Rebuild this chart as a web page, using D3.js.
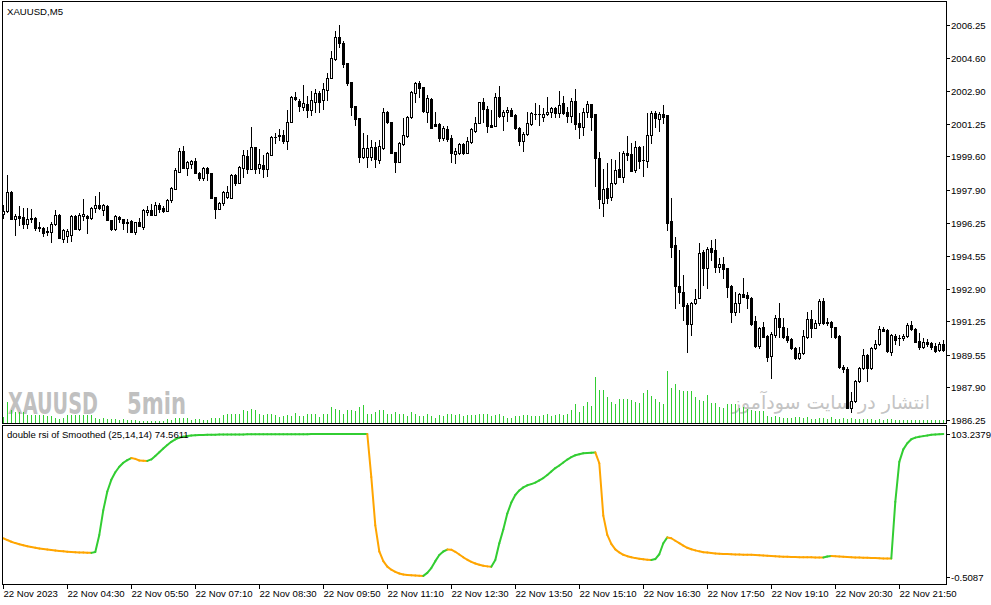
<!DOCTYPE html>
<html>
<head>
<meta charset="utf-8">
<script src="https://cdn.jsdelivr.net/npm/d3@7.9.0/dist/d3.min.js"></script>
<style>
  body { margin: 0; background: #fff; }
  svg { display: block; }
  text { font-family: "Liberation Sans", Arial, sans-serif; font-size: 9.6px; fill: #000; }
</style>
</head>
<body>
<svg id="chart" width="991" height="605"></svg>
<script>
// XAUUSD M5, 22 Nov 2023, one bar every 5 minutes from 03:10
const open = [
  1996.69, 1996.84, 1997.80, 1996.44, 1996.59, 1996.54, 1996.18, 1996.44, 1996.49, 1995.98,
  1995.98, 1995.77, 1995.77, 1996.18, 1996.64, 1995.42, 1995.57, 1995.62, 1996.59, 1995.92,
  1996.59, 1996.59, 1996.49, 1996.99, 1997.14, 1996.89, 1997.09, 1996.38, 1995.92, 1996.54,
  1996.44, 1996.28, 1996.33, 1995.77, 1996.28, 1996.03, 1996.79, 1996.89, 1996.64, 1997.14,
  1996.99, 1996.84, 1997.39, 1997.95, 1998.81, 1999.88, 1999.01, 1999.22, 1999.37, 1998.76,
  1998.51, 1999.01, 1998.76, 1997.55, 1996.94, 1997.24, 1997.55, 1997.50, 1998.66, 1998.25,
  1999.01, 1999.62, 1998.96, 2000.08, 1999.01, 1999.17, 1998.96, 1999.68, 2000.58, 2000.63,
  2000.68, 2000.38, 2001.34, 2002.61, 2002.41, 2002.11, 2002.26, 2001.95, 2002.36, 2002.81,
  2002.46, 2002.96, 2003.57, 2004.53, 2005.65, 2005.34, 2004.33, 2003.37, 2002.16, 2001.54,
  1999.57, 1999.57, 1999.57, 2000.08, 1999.42, 2000.03, 2001.85, 2001.34, 1999.83, 1999.32,
  2000.23, 2000.63, 2001.60, 2002.81, 2003.32, 2003.11, 2001.85, 2002.51, 2001.24, 2001.24,
  2000.53, 2000.99, 2000.53, 1999.73, 1999.78, 2000.23, 1999.78, 2000.33, 2000.89, 2001.29,
  2002.36, 2002.00, 2001.19, 2001.14, 2002.61, 2001.65, 2001.85, 2001.95, 2001.70, 2001.04,
  2000.38, 2000.73, 2001.24, 2001.75, 2001.75, 2001.60, 2001.75, 2001.85, 2002.05, 2001.80,
  2002.31, 2001.85, 2001.65, 2002.41, 2001.29, 2001.09, 2001.85, 2002.26, 2001.75, 1999.52,
  1997.24, 1998.00, 1997.55, 1998.25, 1998.96, 1998.56, 1999.78, 1999.73, 1998.91, 2000.08,
  1999.42, 1999.37, 2000.68, 2001.80, 2001.49, 2001.75, 2001.70, 1996.33, 1995.12, 1993.04,
  1992.74, 1992.08, 1991.12, 1992.18, 1992.43, 1994.76, 1993.95, 1994.96, 1994.86, 1994.00,
  1994.16, 1993.95, 1993.04, 1991.72, 1992.18, 1992.64, 1992.58, 1992.43, 1991.27, 1990.00,
  1990.96, 1990.51, 1989.49, 1990.56, 1991.42, 1990.96, 1990.51, 1990.35, 1989.90, 1989.39,
  1989.65, 1990.46, 1991.37, 1990.91, 1991.17, 1992.28, 1991.22, 1991.22, 1990.96, 1990.51,
  1988.94, 1988.84, 1986.86, 1987.22, 1988.23, 1988.89, 1989.55, 1988.89, 1989.90, 1990.10,
  1990.86, 1990.81, 1989.70, 1990.51, 1990.41, 1990.41, 1990.51, 1991.07, 1990.86, 1990.25,
  1989.95, 1990.20, 1990.15, 1990.00, 1989.80, 1990.10
];
const high = [
  1997.14, 1998.66, 1997.85, 1996.69, 1997.09, 1996.99, 1996.99, 1996.94, 1996.54, 1996.28,
  1996.03, 1996.03, 1996.28, 1996.89, 1996.69, 1995.92, 1995.92, 1996.64, 1996.64, 1996.74,
  1997.44, 1996.64, 1997.04, 1997.60, 1997.80, 1997.19, 1997.14, 1996.38, 1996.64, 1996.59,
  1996.44, 1996.44, 1996.38, 1996.28, 1996.49, 1996.94, 1997.09, 1997.19, 1997.29, 1997.24,
  1997.09, 1997.44, 1998.05, 1999.01, 2000.03, 2000.13, 1999.37, 1999.42, 1999.52, 1998.81,
  1999.06, 1999.06, 1998.76, 1997.55, 1997.29, 1997.85, 1998.10, 1998.71, 1998.71, 1999.11,
  1999.93, 1999.93, 2001.09, 2000.08, 1999.98, 1999.68, 1999.83, 2000.63, 2000.79, 2000.99,
  2000.94, 2001.95, 2002.66, 2002.86, 2002.51, 2003.21, 2002.66, 2002.91, 2003.01, 2002.91,
  2003.32, 2003.83, 2004.94, 2005.95, 2006.25, 2005.44, 2004.33, 2003.37, 2002.16, 2001.54,
  2000.79, 2000.68, 2000.43, 2000.33, 2000.43, 2002.05, 2001.90, 2001.34, 1999.83, 2000.33,
  2001.54, 2001.65, 2002.91, 2003.37, 2003.42, 2003.11, 2002.71, 2002.56, 2001.85, 2001.29,
  2001.14, 2001.14, 2000.68, 2000.03, 2000.28, 2000.28, 2000.58, 2001.04, 2001.60, 2002.36,
  2002.56, 2002.16, 2001.95, 2002.81, 2003.16, 2001.95, 2002.11, 2002.05, 2001.75, 2001.09,
  2000.84, 2001.85, 2001.85, 2002.31, 2002.21, 2002.05, 2002.61, 2002.11, 2002.11, 2002.91,
  2002.66, 2002.11, 2002.56, 2003.01, 2001.80, 2002.05, 2002.41, 2002.26, 2001.75, 1999.83,
  1998.96, 1999.27, 1999.47, 1999.42, 1999.83, 1999.88, 2000.63, 2000.28, 2000.38, 2000.13,
  2000.13, 2001.80, 2001.90, 2001.90, 2001.85, 2002.21, 2001.70, 1997.50, 1995.52, 1994.86,
  1993.60, 1992.18, 1992.23, 1992.89, 1995.22, 1994.86, 1995.02, 1995.37, 1995.42, 1994.46,
  1994.51, 1993.95, 1993.09, 1992.74, 1992.69, 1993.44, 1992.74, 1992.48, 1991.52, 1990.96,
  1991.22, 1990.56, 1990.71, 1991.57, 1992.18, 1991.42, 1990.91, 1990.41, 1989.95, 1989.95,
  1990.81, 1991.72, 1991.82, 1991.32, 1992.38, 1992.43, 1991.42, 1991.27, 1990.96, 1990.56,
  1989.04, 1988.94, 1987.67, 1988.28, 1988.94, 1989.85, 1989.60, 1989.95, 1990.30, 1991.02,
  1990.96, 1990.86, 1990.61, 1990.61, 1990.56, 1990.61, 1991.17, 1991.27, 1990.91, 1990.66,
  1990.41, 1990.35, 1990.20, 1990.15, 1990.20, 1990.30
];
const low = [
  1996.49, 1996.79, 1996.44, 1995.62, 1996.13, 1995.98, 1995.98, 1996.28, 1995.87, 1995.82,
  1995.57, 1995.62, 1995.27, 1996.13, 1995.47, 1995.27, 1995.27, 1995.32, 1995.92, 1995.87,
  1996.38, 1995.72, 1996.44, 1996.79, 1996.94, 1996.64, 1996.38, 1995.87, 1995.87, 1996.28,
  1995.92, 1995.77, 1995.77, 1995.67, 1996.08, 1995.92, 1996.64, 1996.64, 1996.64, 1996.79,
  1996.79, 1996.84, 1997.29, 1997.95, 1998.81, 1999.01, 1998.66, 1999.01, 1998.76, 1998.41,
  1998.41, 1998.41, 1997.50, 1996.49, 1996.94, 1997.14, 1997.50, 1997.50, 1998.15, 1998.25,
  1998.56, 1998.76, 1998.96, 1998.76, 1998.76, 1998.56, 1998.61, 1999.68, 2000.28, 2000.43,
  2000.28, 1999.98, 2001.34, 2002.46, 2001.90, 2001.95, 2001.60, 2001.70, 2001.85, 2001.85,
  2002.01, 2002.46, 2003.57, 2004.48, 2005.14, 2004.13, 2003.21, 2001.70, 2001.19, 1999.32,
  1999.52, 1999.06, 1999.42, 1999.06, 1999.27, 1999.98, 2001.29, 1999.78, 1998.81, 1999.32,
  2000.18, 2000.58, 2001.54, 2002.36, 2002.61, 2001.85, 2001.34, 2001.04, 2001.14, 2000.38,
  2000.43, 2000.38, 1999.32, 1999.27, 1999.73, 1999.73, 1999.78, 2000.28, 2000.84, 2001.29,
  2001.34, 2000.84, 2001.09, 2001.14, 2001.60, 2000.94, 2001.39, 2001.65, 2000.99, 2000.18,
  1999.88, 2000.68, 2001.19, 2001.49, 2001.19, 2001.39, 2001.70, 2001.60, 2001.60, 2001.60,
  2001.75, 2001.34, 2001.34, 2000.99, 2000.53, 2000.68, 2001.60, 2000.94, 1998.10, 1996.99,
  1996.59, 1997.24, 1997.39, 1998.20, 1998.56, 1998.30, 1999.42, 1998.86, 1998.81, 1999.01,
  1998.61, 1999.06, 2000.28, 2001.09, 2000.89, 2001.29, 1995.87, 1994.51, 1991.92, 1992.18,
  1991.32, 1989.70, 1990.55, 1992.13, 1992.43, 1993.09, 1992.94, 1994.36, 1993.75, 1993.75,
  1993.44, 1992.48, 1991.22, 1991.57, 1991.72, 1992.48, 1991.92, 1991.07, 1989.95, 1989.90,
  1990.46, 1989.24, 1988.38, 1990.46, 1990.46, 1990.41, 1990.20, 1989.85, 1989.34, 1989.34,
  1989.60, 1990.41, 1990.46, 1990.91, 1991.07, 1991.12, 1991.07, 1990.46, 1990.41, 1988.89,
  1988.69, 1986.86, 1986.66, 1987.17, 1988.18, 1988.84, 1988.23, 1988.84, 1989.85, 1990.05,
  1990.76, 1989.70, 1989.55, 1990.10, 1990.05, 1990.30, 1990.46, 1990.81, 1990.20, 1989.85,
  1989.90, 1990.00, 1989.85, 1989.70, 1989.75, 1989.75
];
const close = [
  1996.84, 1997.80, 1996.44, 1996.59, 1996.49, 1996.18, 1996.44, 1996.49, 1995.98, 1996.03,
  1995.72, 1995.82, 1996.18, 1996.64, 1995.47, 1995.87, 1995.82, 1996.59, 1995.92, 1996.64,
  1996.69, 1996.49, 1996.99, 1997.14, 1996.99, 1997.14, 1996.38, 1995.92, 1996.59, 1996.44,
  1996.23, 1996.23, 1995.77, 1996.28, 1996.08, 1996.89, 1996.89, 1996.64, 1997.14, 1996.94,
  1996.84, 1997.39, 1998.00, 1998.91, 1999.88, 1999.01, 1999.32, 1999.37, 1998.76, 1998.51,
  1999.01, 1998.76, 1997.50, 1996.94, 1997.24, 1997.80, 1997.80, 1998.66, 1998.25, 1999.06,
  1999.68, 1998.96, 2000.08, 1998.96, 1999.22, 1998.96, 1999.78, 2000.58, 2000.60, 2000.68,
  2000.38, 2001.34, 2002.61, 2002.51, 2002.16, 2002.31, 2001.95, 2002.46, 2002.81, 2002.36,
  2003.01, 2003.57, 2004.58, 2005.65, 2005.34, 2004.28, 2003.32, 2002.11, 2001.49, 1999.57,
  2000.03, 2000.03, 2000.08, 1999.47, 2000.13, 2001.85, 2001.34, 1999.78, 1999.32, 2000.28,
  2000.68, 2001.60, 2002.86, 2003.32, 2003.06, 2001.90, 2002.56, 2001.04, 2001.14, 2000.53,
  2001.04, 2000.48, 1999.78, 1999.88, 2000.23, 1999.78, 2000.38, 2000.99, 2001.29, 2002.36,
  2002.00, 2001.14, 2001.09, 2002.61, 2001.65, 2001.85, 2001.95, 2001.65, 2001.04, 2000.38,
  2000.73, 2001.29, 2001.80, 2001.73, 2001.75, 2001.75, 2001.85, 2002.05, 2001.80, 2002.21,
  2001.80, 2001.65, 2002.41, 2001.24, 2001.09, 2001.85, 2002.26, 2001.60, 1999.52, 1997.44,
  1997.95, 1997.50, 1998.25, 1998.91, 1998.56, 1999.78, 1999.68, 1998.86, 2000.08, 1999.37,
  1999.40, 2000.68, 2001.80, 2001.54, 2001.75, 2001.60, 1996.23, 1995.02, 1993.04, 1992.74,
  1992.03, 1991.12, 1992.18, 1992.38, 1994.71, 1993.95, 1994.91, 1994.76, 1994.00, 1994.16,
  1993.90, 1992.99, 1991.72, 1992.18, 1992.64, 1992.48, 1992.43, 1991.12, 1990.00, 1990.91,
  1990.46, 1989.44, 1990.61, 1991.42, 1990.96, 1990.46, 1990.30, 1989.90, 1989.39, 1989.65,
  1990.51, 1991.37, 1990.91, 1991.17, 1992.28, 1991.17, 1991.17, 1990.96, 1990.46, 1988.94,
  1988.84, 1986.86, 1987.22, 1988.23, 1988.89, 1989.55, 1988.89, 1989.90, 1990.10, 1990.86,
  1990.76, 1989.75, 1990.56, 1990.30, 1990.39, 1990.51, 1991.07, 1990.86, 1990.20, 1989.95,
  1990.20, 1990.10, 1989.95, 1989.75, 1990.10, 1989.80
];
// tick volume
const volume = [
  150, 525, 325, 275, 275, 275, 200, 200, 200, 200,
  200, 175, 175, 125, 100, 125, 200, 200, 200, 200,
  200, 200, 200, 125, 100, 125, 100, 100, 100, 75,
  100, 75, 75, 75, 50, 50, 50, 50, 50, 50,
  50, 100, 75, 125, 125, 125, 125, 75, 100, 100,
  75, 75, 125, 125, 125, 200, 225, 225, 225, 225,
  325, 300, 350, 325, 225, 200, 225, 225, 200, 150,
  175, 200, 175, 250, 175, 175, 225, 225, 225, 150,
  225, 225, 400, 350, 325, 225, 325, 325, 300, 400,
  450, 225, 225, 275, 325, 325, 225, 225, 275, 225,
  225, 175, 275, 225, 175, 175, 225, 175, 125, 200,
  175, 225, 225, 200, 225, 175, 200, 200, 200, 225,
  225, 225, 175, 200, 225, 175, 125, 125, 175, 175,
  200, 200, 175, 175, 175, 200, 225, 175, 200, 225,
  200, 225, 325, 475, 275, 425, 525, 425, 1150, 825,
  825, 650, 525, 475, 600, 600, 600, 575, 525, 500,
  750, 825, 675, 600, 525, 475, 1300, 875, 975, 825,
  800, 800, 800, 650, 575, 550, 700, 500, 500, 400,
  375, 475, 475, 475, 375, 400, 350, 325, 300, 300,
  300, 175, 150, 175, 150, 125, 125, 125, 150, 150,
  125, 150, 100, 100, 125, 125, 100, 150, 100, 100,
  125, 100, 125, 100, 100, 100, 100, 100, 75, 100,
  75, 100, 100, 75, 75, 75, 75, 75, 75, 75,
  75, 75, 75, 75, 75, 75
];
// double rsi of Smoothed (25,14,14)
const drsi = [
  27.6, 26.3, 25.1, 24.1, 23.3, 22.5, 21.8, 21.2, 20.7, 20.2,
  19.8, 19.4, 19.0, 18.7, 18.4, 18.1, 17.8, 17.6, 17.4, 17.3,
  17.2, 17.1, 17.0, 17.6, 30.0, 48.0, 61.5, 70.0, 75.5, 79.5,
  82.4, 84.3, 85.8, 85.2, 84.0, 83.8, 83.7, 84.8, 87.3, 90.0,
  92.7, 95.3, 97.6, 99.3, 100.6, 101.3, 101.8, 102.1, 102.3, 102.5,
  102.6, 102.65, 102.7, 102.75, 102.8, 102.83, 102.86, 102.89, 102.92, 102.94,
  102.96, 102.98, 103.0, 103.01, 103.02, 103.03, 103.04, 103.05, 103.06, 103.07,
  103.08, 103.09, 103.1, 103.11, 103.12, 103.13, 103.14, 103.15, 103.16, 103.17,
  103.18, 103.19, 103.2, 103.2, 103.21, 103.21, 103.22, 103.22, 103.23, 103.23,
  103.23, 103.23, 72.0, 37.0, 18.0, 11.0, 7.0, 4.8, 3.2, 2.0,
  1.3, 0.9, 0.7, 0.5, 0.4, 0.3, 2.5, 6.0, 11.0, 15.5,
  18.0, 19.4, 19.3, 17.8, 15.8, 13.8, 12.0, 10.5, 9.3, 8.4,
  7.6, 7.2, 7.0, 11.8, 23.9, 34.0, 45.5, 53.5, 59.0, 62.3,
  64.5, 66.0, 66.9, 68.0, 69.6, 71.3, 73.5, 76.0, 78.5, 80.4,
  82.6, 84.7, 86.5, 87.8, 88.6, 89.2, 89.5, 89.7, 89.9, 82.0,
  44.0, 30.0, 23.5, 19.5, 17.3, 15.6, 14.6, 13.8, 13.2, 12.7,
  12.3, 12.0, 11.8, 12.5, 16.0, 24.0, 28.2, 27.6, 25.8, 24.0,
  22.2, 20.7, 19.6, 18.8, 18.1, 17.5, 17.2, 16.9, 16.6, 16.4,
  16.2, 16.1, 16.0, 15.9, 15.8, 15.7, 15.6, 15.55, 15.5, 15.3,
  15.1, 14.9, 14.7, 14.5, 14.3, 14.2, 14.1, 14.0, 13.95, 13.9,
  13.85, 13.8, 13.75, 13.7, 13.65, 13.6, 14.3, 14.7, 14.6, 14.4,
  14.2, 14.0, 13.9, 13.7, 13.6, 13.5, 13.4, 13.3, 13.2, 13.1,
  13.0, 12.95, 12.9, 54.0, 83.0, 92.1, 96.5, 99.4, 100.6, 101.3,
  101.7, 102.2, 102.7, 102.9, 103.1, 103.2
];

const priceTicks = [2006.25, 2004.60, 2002.90, 2001.25, 1999.60, 1997.90, 1996.25,
                    1994.55, 1992.90, 1991.25, 1989.55, 1987.90, 1986.25];
const indTicks = [103.2379, -0.5087];
const timeTicks = [0, 16, 32, 48, 64, 80, 96, 112, 128, 144, 160, 176, 192, 208, 224];
const timeLabels = ['22 Nov 2023', '22 Nov 04:30', '22 Nov 05:50', '22 Nov 07:10', '22 Nov 08:30',
                    '22 Nov 09:50', '22 Nov 11:10', '22 Nov 12:30', '22 Nov 13:50', '22 Nov 15:10',
                    '22 Nov 16:30', '22 Nov 17:50', '22 Nov 19:10', '22 Nov 20:30', '22 Nov 21:50'];

const up = '#32cd32', down = '#ffa500';
const axisX = 946;

const svg = d3.select('#chart');

let x = d3.scaleLinear().domain([0, 235]).range([3.3, 943.3]);
let y = d3.scaleLinear().domain([1986.25, 2006.25]).range([420, 25]);
let yVol = d3.scaleLinear().domain([0, 1300]).range([423, 371]);
let yInd = d3.scaleLinear().domain([-0.5087, 103.2379]).range([577, 434]);

svg.append('rect').attr('width', 991).attr('height', 605).attr('fill', '#fff');

svg.append('defs').append('clipPath').attr('id', 'mainClip')
  .append('rect').attr('x', 3).attr('y', 2).attr('width', axisX - 3).attr('height', 421);

// watermarks
svg.append('text')
  .attr('x', 8).attr('y', 414)
  .attr('textLength', 90).attr('lengthAdjust', 'spacingAndGlyphs')
  .style('font-family', '"Liberation Sans Narrow", "DejaVu Sans Condensed", sans-serif')
  .style('font-size', '30px').style('font-weight', 'bold').style('fill', '#c0c0c0')
  .text('XAUUSD');
svg.append('text')
  .attr('x', 127).attr('y', 414)
  .attr('textLength', 59).attr('lengthAdjust', 'spacingAndGlyphs')
  .style('font-family', '"Liberation Sans Narrow", "DejaVu Sans Condensed", sans-serif')
  .style('font-size', '30px').style('font-weight', 'bold').style('fill', '#c0c0c0')
  .text('5min');
svg.append('text')
  .attr('x', 930).attr('y', 409)
  .attr('text-anchor', 'end')
  .style('font-family', '"DejaVu Sans", sans-serif')
  .style('font-size', '19px').style('fill', '#c4c4c4')
  .text('انتشار در سایت سودآموز');

const main = svg.append('g').attr('clip-path', 'url(#mainClip)').attr('shape-rendering', 'crispEdges');

// volumes
volume.forEach((v, i) => {
  let cx = Math.round(x(i)) + 0.5;
  main.append('line')
    .attr('x1', cx).attr('x2', cx)
    .attr('y1', 423).attr('y2', Math.round(yVol(v)))
    .attr('stroke', up).attr('stroke-width', 1);
});

// candles
close.forEach((c, i) => {
  let o = open[i];
  let cx = Math.round(x(i));
  let top = Math.round(y(Math.max(o, c)));
  let bot = Math.round(y(Math.min(o, c)));
  main.append('line')
    .attr('x1', cx + 0.5).attr('x2', cx + 0.5)
    .attr('y1', Math.round(y(high[i]))).attr('y2', Math.round(y(low[i])) + 1)
    .attr('stroke', '#000');
  if (bot - top < 1) {
    main.append('line')
      .attr('x1', cx - 1).attr('x2', cx + 2)
      .attr('y1', top + 0.5).attr('y2', top + 0.5)
      .attr('stroke', '#000');
  } else {
    main.append('rect')
      .attr('x', cx - 0.5).attr('y', top + 0.5)
      .attr('width', 2).attr('height', bot - top)
      .attr('fill', c >= o ? '#fff' : '#000')
      .attr('stroke', '#000').attr('stroke-width', 1);
  }
});

// indicator line, green while rising, orange while falling
const ind = svg.append('g');
for (let i = 1; i < drsi.length; i++) {
  ind.append('line')
    .attr('x1', x(i - 1)).attr('y1', yInd(drsi[i - 1]))
    .attr('x2', x(i)).attr('y2', yInd(drsi[i]))
    .attr('stroke', drsi[i] >= drsi[i - 1] ? up : down)
    .attr('stroke-width', 2).attr('stroke-linecap', 'round');
}

// frames
const frame = svg.append('g').attr('shape-rendering', 'crispEdges')
  .attr('fill', 'none').attr('stroke', '#000');
frame.append('rect').attr('x', 2.5).attr('y', 1.5).attr('width', axisX - 2).attr('height', 422);
frame.append('rect').attr('x', 2.5).attr('y', 425.5).attr('width', axisX - 2).attr('height', 159);

// price axis
priceTicks.forEach((p) => {
  let py = Math.round(y(p)) + 0.5;
  frame.append('line').attr('x1', axisX).attr('x2', axisX + 4).attr('y1', py).attr('y2', py);
  svg.append('text').attr('x', axisX + 5).attr('y', py + 3.5).text(p.toFixed(2));
});

indTicks.forEach((p) => {
  let py = Math.round(yInd(p)) + 0.5;
  frame.append('line').attr('x1', axisX).attr('x2', axisX + 4).attr('y1', py).attr('y2', py);
  svg.append('text').attr('x', axisX + 5).attr('y', py + 3.5).text(p.toFixed(4));
});

// time axis
timeTicks.forEach((t, k) => {
  let tx = Math.round(x(t)) + 0.5;
  frame.append('line').attr('x1', tx).attr('x2', tx).attr('y1', 584).attr('y2', 589);
  svg.append('text').attr('x', tx).attr('y', 597).text(timeLabels[k]);
});

// labels
svg.append('text').attr('x', 7).attr('y', 15).text('XAUUSD,M5');
svg.append('text').attr('x', 7).attr('y', 438).text('double rsi of Smoothed (25,14,14) 74.5611');
</script>
</body>
</html>
